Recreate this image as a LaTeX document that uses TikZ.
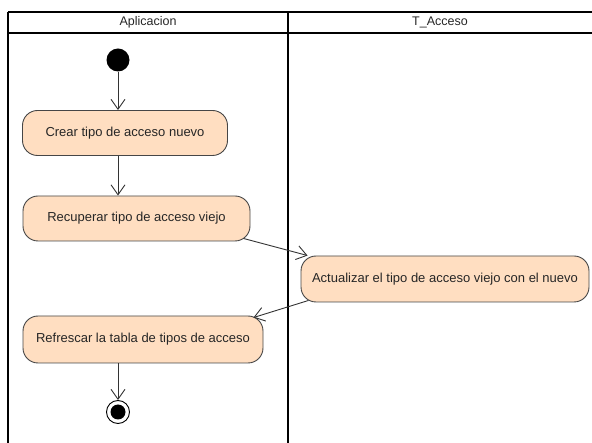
\documentclass[tikz,border=0pt]{standalone}
\usepackage{fontspec}
\setmainfont{Liberation Sans}
\usetikzlibrary{arrows.meta}
\definecolor{actfill}{RGB}{255,222,193}
\definecolor{actdraw}{RGB}{70,70,70}
\begin{document}
\begin{tikzpicture}[x=1pt,y=-1pt,
  lane/.style={line width=2pt,black},
  action/.style={draw=actdraw,fill=actfill,line width=0.9pt,rounded corners=15pt,
    inner sep=0pt,font=\fontsize{13}{15}\selectfont,text=black!85},
  flow/.style={draw=black!80,line width=0.9pt,-{Straight Barb[length=10pt,width=14pt]}},
  lanetitle/.style={font=\fontsize{12.5}{14}\selectfont,text=black!85}]
\useasboundingbox (0,0) rectangle (592,443);
\begin{scope}
\clip (0,0) rectangle (592,443);
% swimlane frame
\draw[lane] (8,12) -- (600,12);
\draw[lane] (8,33) -- (600,33);
\draw[lane] (8,12) -- (8,450);
\draw[lane] (288,12) -- (288,450);
\end{scope}
\node[lanetitle] (l1) at (148,22.5) {Aplicacion};
\node[lanetitle] (l2) at (440,22.5) {T\_Acceso};
% initial and final states
\node[circle,fill=black,minimum size=23pt,inner sep=0pt] (start) at (118,60) {};
\node[circle,draw=black,line width=0.9pt,minimum size=23pt,inner sep=0pt] (end) at (118,412) {};
\node[circle,fill=black,minimum size=15pt,inner sep=0pt] (endin) at (118,412) {};
% actions
\node[action,minimum width=205pt,minimum height=45pt] (b1) at (125,133) {Crear tipo de acceso nuevo};
\node[action,minimum width=227pt,minimum height=45pt] (b2) at (136.5,218.5) {Recuperar tipo de acceso viejo};
\node[action,minimum width=288pt,minimum height=46pt] (b3) at (445,279) {Actualizar el tipo de acceso viejo con el nuevo};
\node[action,minimum width=240pt,minimum height=47pt] (b4) at (143,339.5) {Refrescar la tabla de tipos de acceso};
% control flows
\draw[flow] (start) -- (start |- b1.north);
\draw[flow] (b1.south -| start) -- (start |- b2.north);
\draw[flow] ([shift={(-7,-3)}]b2.south east) -- ([shift={(7,0)}]b3.north west);
\draw[flow] ([shift={(8,-2)}]b3.south west) -- ([shift={(-10,2)}]b4.north east);
\draw[flow] (b4.south -| start) -- (end.north);
\end{tikzpicture}
\end{document}
